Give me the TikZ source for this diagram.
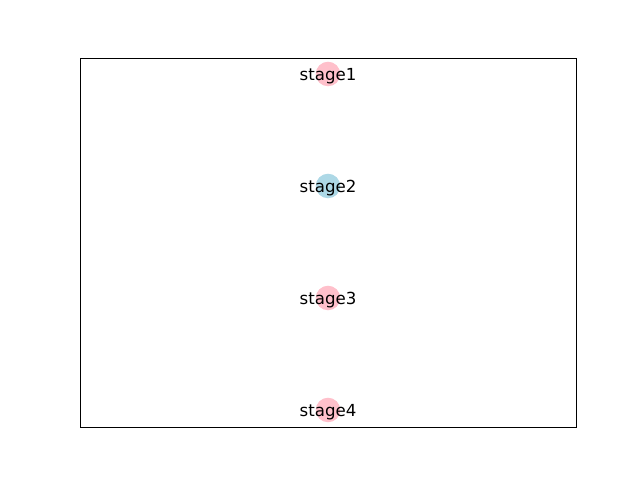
\documentclass[tikz,border=0pt]{standalone}
\usepackage{fontspec}
\setmainfont{DejaVu Sans}
\usetikzlibrary{positioning}
\definecolor{stagepink}{HTML}{FFC0CB}
\definecolor{stageblue}{HTML}{ADD8E6}

\begin{document}
\begin{tikzpicture}[x=0.01in,y=-0.01in,
  stagenode/.style={circle,minimum size=0.245in,inner sep=0pt,fill=#1},
  stagelabel/.style={font=\fontsize{12}{14}\selectfont,inner sep=0pt,yshift=-0.02in}]
  \useasboundingbox (0,0) rectangle (640,480);
  \draw[line width=0.6pt] (80,58) rectangle (576,427);
  \node[stagenode=stagepink] (s1) at (328,74){};
  \node[stagenode=stageblue] (s2) at (328,186){};
  \node[stagenode=stagepink] (s3) at (328,298){};
  \node[stagenode=stagepink] (s4) at (328,410){};
  \node[stagelabel] at (s1){stage1};
  \node[stagelabel] at (s2){stage2};
  \node[stagelabel] at (s3){stage3};
  \node[stagelabel] at (s4){stage4};
\end{tikzpicture}
\end{document}
